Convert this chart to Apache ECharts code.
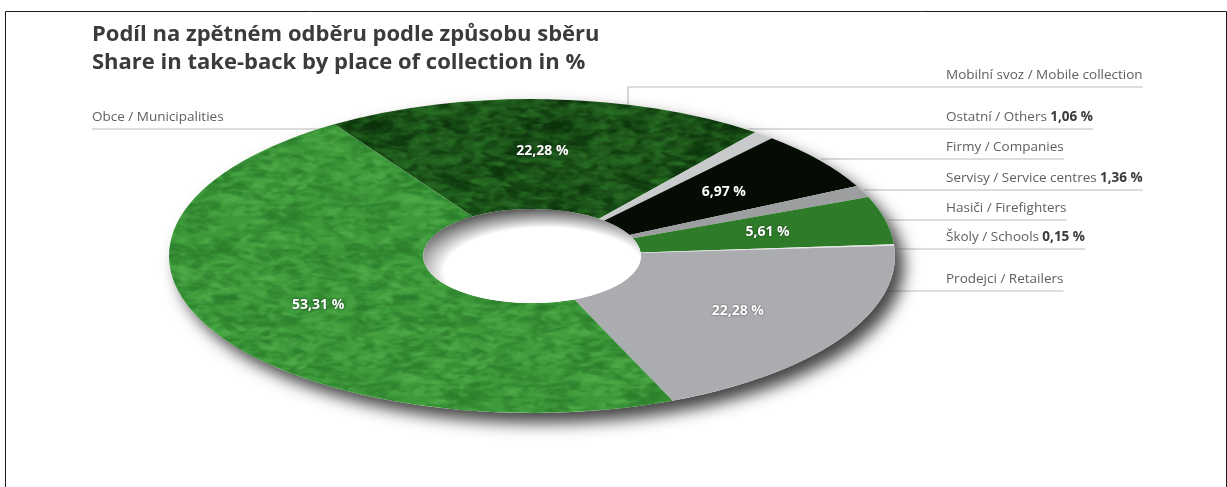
<!DOCTYPE html>
<html>
<head>
<meta charset="utf-8">
<title>Podíl na zpětném odběru podle způsobu sběru</title>
<script src="https://cdn.jsdelivr.net/npm/echarts@6/dist/echarts.min.js"></script>
<style>
  html, body { margin: 0; padding: 0; background: #ffffff; }
  #chart { width: 1227px; height: 487px; }
</style>
</head>
<body>
<div id="chart"></div>
<script>
// ---- data ----
const categories = [
  'Mobilní svoz / Mobile collection',
  'Ostatní / Others',
  'Firmy / Companies',
  'Servisy / Service centres',
  'Hasiči / Firefighters',
  'Školy / Schools',
  'Prodejci / Retailers',
  'Obce / Municipalities'
];
const shares = [22.28, 1.06, 6.97, 1.36, 5.61, 0.15, 22.28, 53.31];
const titleLines = [
  'Podíl na zpětném odběru podle způsobu sběru',
  'Share in take-back by place of collection in %'
];

// ---- ring geometry (flattened donut seen in perspective) ----
const CX = 532, CY = 256, R = 363;
const FLAT = 157 / 363;          // vertical squash of the ring
const R0 = R * 0.3;              // hole radius
const START_DEG = -33;           // first slice starts here, clockwise from 12 o'clock

const total = shares.reduce((a, b) => a + b, 0);
const cumulative = [];
shares.reduce((acc, v) => { cumulative.push(acc); return acc + v; }, 0);

const fmt = v => v.toFixed(2).replace('.', ',') + ' %';
const SMALL = 2;                 // slices below this share carry their value in the side label

// mottled grass-like fill, tiled seamlessly
function texture(base, dark, light, seed) {
  const w = 180, h = Math.round(180 / FLAT);
  const tile = document.createElement('canvas');
  tile.width = w; tile.height = h;
  const g = tile.getContext('2d');
  g.fillStyle = base; g.fillRect(0, 0, w, h);
  let s = seed >>> 0;
  const rnd = () => { s = (Math.imul(s, 1664525) + 1013904223) >>> 0; return s / 4294967296; };
  for (let n = 0; n < 1100; n++) {
    const x = rnd() * w, y = rnd() * h;
    const rx = 1.5 + rnd() * 5;
    const ry = rx / FLAT * (0.6 + rnd() * 0.8);
    const rot = rnd() * Math.PI;
    g.globalAlpha = 0.2 + rnd() * 0.3;
    g.fillStyle = rnd() < 0.55 ? dark : light;
    for (let dx = -1; dx <= 1; dx++) {
      for (let dy = -1; dy <= 1; dy++) {
        g.beginPath();
        g.ellipse(x + dx * w, y + dy * h, rx, ry, rot, 0, Math.PI * 2);
        g.fill();
      }
    }
  }
  g.globalAlpha = 1;
  // soften: blur a 3x3 mosaic, keep the centre tile
  const big = document.createElement('canvas');
  big.width = w * 3; big.height = h * 3;
  const bg = big.getContext('2d');
  for (let i = 0; i < 3; i++) for (let j = 0; j < 3; j++) bg.drawImage(tile, i * w, j * h);
  const soft = document.createElement('canvas');
  soft.width = w * 3; soft.height = h * 3;
  const sg = soft.getContext('2d');
  sg.filter = 'blur(1.2px)';
  sg.drawImage(big, 0, 0);
  const out = document.createElement('canvas');
  out.width = w; out.height = h;
  out.getContext('2d').drawImage(soft, w, h, w, h, 0, 0, w, h);
  return out;
}

const sliceFills = [
  { image: texture('#1d561a', '#0b300b', '#2c7628', 7), repeat: 'repeat' },
  '#c9cacb',
  '#040c04',
  '#9d9ea0',
  '#2e7b29',
  '#e6e6e6',
  '#abacaf',
  { image: texture('#3d9a3a', '#2a7b2b', '#52b04c', 31), repeat: 'repeat' }
];

const rad = d => (d - 90) * Math.PI / 180;

function renderSlice(params, api) {
  const i = params.dataIndex;
  const v = api.value(0);
  const a0 = START_DEG + 360 * cumulative[i] / total;
  const a1 = a0 + 360 * v / total;
  const children = [];
  if (i === 0) {
    // base disc casting the soft shadow
    children.push({
      type: 'circle', x: CX, y: CY, scaleY: FLAT, z2: -10,
      shape: { cx: 0, cy: 0, r: R },
      style: { fill: '#ffffff', shadowBlur: 16, shadowColor: 'rgba(35,35,35,0.85)', shadowOffsetX: 9, shadowOffsetY: 10 }
    });
    // shaded hole
    children.push({
      type: 'circle', x: CX, y: CY, scaleY: FLAT, z2: 1,
      shape: { cx: 0, cy: 0, r: R0 },
      style: {
        fill: {
          type: 'radial', x: 0.56, y: 0.66, r: 0.66,
          colorStops: [
            { offset: 0, color: '#ffffff' },
            { offset: 0.7, color: '#ffffff' },
            { offset: 1, color: '#5e5e5e' }
          ]
        }
      }
    });
  }
  children.push({
    type: 'sector', x: CX, y: CY, scaleY: FLAT, z2: 0,
    shape: { cx: 0, cy: 0, r: R, r0: R0, startAngle: rad(a0), endAngle: rad(a1), clockwise: true },
    style: { fill: sliceFills[i] }
  });
  if (v >= SMALL) {
    const mid = (a0 + a1) / 2 * Math.PI / 180;
    const rm = (R + R0) / 2 + 6;
    children.push({
      type: 'text', z2: 5,
      x: CX + rm * Math.sin(mid),
      y: CY - rm * FLAT * Math.cos(mid),
      style: {
        text: fmt(v),
        fill: '#ffffff',
        font: 'bold 14px "Open Sans", sans-serif',
        align: 'center', verticalAlign: 'middle',
        textAlign: 'center', textVerticalAlign: 'middle',
        textShadowBlur: 2, textShadowColor: 'rgba(0,0,0,0.6)'
      }
    });
  }
  return { type: 'group', children };
}

// ---- side labels with leader lines ----
const NAME_FONT = '13.5px "Open Sans", sans-serif';
const VALUE_FONT = 'bold 13.5px "Open Sans", sans-serif';
const measureCtx = document.createElement('canvas').getContext('2d');
function textWidth(font, str) { measureCtx.font = font; return measureCtx.measureText(str).width; }

function ellipseX(y, side) {
  const t = (y - CY) / (R * FLAT);
  return CX + side * R * Math.sqrt(Math.max(0, 1 - t * t));
}
function ellipseTopY(x) {
  const t = (x - CX) / R;
  return CY - R * FLAT * Math.sqrt(Math.max(0, 1 - t * t));
}

const LABEL_X = 946;
const rowText = [75, 117, 147, 178, 208, 237, 279];   // right-hand rows, slices 0..6
const LINE_GAP = 12;
const LINE_COLOR = '#bcbcbc';

const graphics = [];
// frame
graphics.push({ type: 'polyline', silent: true, shape: { points: [[5.5, 487], [5.5, 11.5], [1226.5, 11.5], [1226.5, 487]] },
  style: { stroke: '#1a1a1a', lineWidth: 1, fill: null } });

rowText.forEach((ty, i) => {
  const name = categories[i];
  const small = shares[i] < SMALL;
  const valueText = small ? fmt(shares[i]) : '';
  const w = textWidth(NAME_FONT, name + (small ? ' ' : '')) + (small ? textWidth(VALUE_FONT, valueText) : 0);
  graphics.push({
    type: 'text', x: LABEL_X, y: ty, silent: true,
    style: {
      text: small ? '{n|' + name + '} {v|' + valueText + '}' : '{n|' + name + '}',
      rich: {
        n: { font: NAME_FONT, fill: '#606060' },
        v: { font: VALUE_FONT, fill: '#3a3a3a' }
      },
      align: 'left', verticalAlign: 'middle', textAlign: 'left', textVerticalAlign: 'middle'
    }
  });
  const ly = ty + LINE_GAP;
  const xEnd = LABEL_X + w;
  let pts;
  if (i === 0) {
    const xDrop = 628;
    pts = [[xDrop, ellipseTopY(xDrop) + 1], [xDrop, ly], [xEnd, ly]];
  } else {
    pts = [[ellipseX(ly, 1) + 3, ly], [xEnd, ly]];
  }
  graphics.push({ type: 'polyline', silent: true, shape: { points: pts },
    style: { stroke: LINE_COLOR, lineWidth: 1.2, fill: null } });
});

// left-hand label for the largest slice
(() => {
  const i = 7, tx = 92, ty = 117, ly = ty + LINE_GAP;
  graphics.push({
    type: 'text', x: tx, y: ty, silent: true,
    style: { text: categories[i], font: NAME_FONT, fill: '#606060',
      align: 'left', verticalAlign: 'middle', textAlign: 'left', textVerticalAlign: 'middle' }
  });
  graphics.push({ type: 'polyline', silent: true, shape: { points: [[tx, ly], [ellipseX(ly, -1) + 2, ly]] },
    style: { stroke: LINE_COLOR, lineWidth: 1.2, fill: null } });
})();

const chart = echarts.init(document.getElementById('chart'), null, { renderer: 'canvas' });
chart.setOption({
  backgroundColor: '#ffffff',
  animation: false,
  title: {
    text: titleLines.join('\n'),
    left: 87, top: 16,
    textStyle: {
      fontFamily: '"Open Sans", sans-serif', fontWeight: 'bold', fontSize: 22,
      color: '#3b3b3b', lineHeight: 28
    }
  },
  graphic: { elements: graphics },
  series: [{
    type: 'custom',
    coordinateSystem: 'none',
    silent: true,
    renderItem: renderSlice,
    data: shares.map((v, i) => ({ name: categories[i], value: [v] }))
  }]
});
</script>
</body>
</html>
